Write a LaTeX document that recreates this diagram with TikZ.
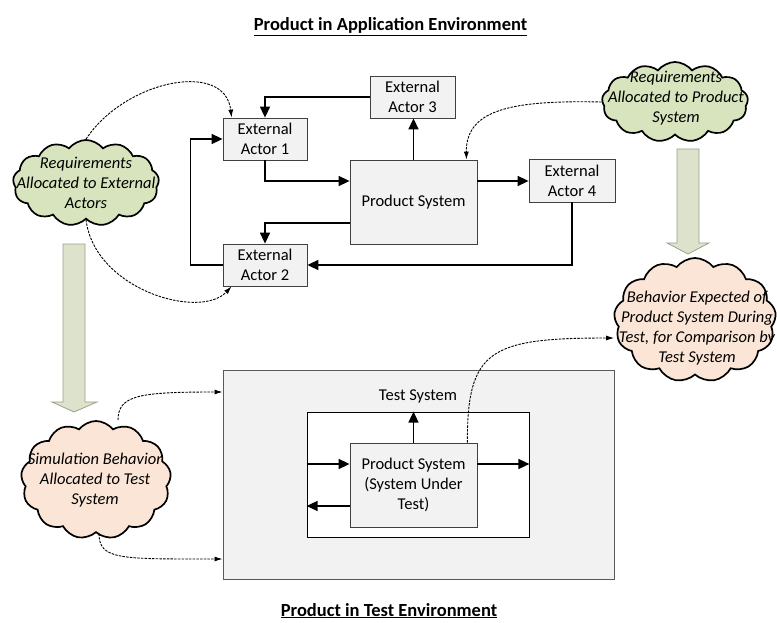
\documentclass[tikz,border=0pt]{standalone}
\usepackage{fontspec}
\setmainfont{Carlito}
\usetikzlibrary{shapes.symbols,arrows.meta}
\definecolor{boxfill}{HTML}{F2F2F2}
\definecolor{boxline}{HTML}{404040}
\definecolor{cgreen}{HTML}{D7E4BD}
\definecolor{cpeach}{HTML}{FBE5D6}
\definecolor{barrowfill}{HTML}{DCE2CB}
\definecolor{barrowline}{HTML}{9AA285}
\definecolor{bigline}{HTML}{595959}
\begin{document}
\begin{tikzpicture}[x=1pt,y=-1pt,
  txt/.style={font=\fontsize{16.5}{20}\selectfont},
  actor/.style={draw=boxline,line width=0.8pt,fill=boxfill,rectangle,inner sep=0pt,align=center,txt},
  cloudshape/.style={cloud,cloud puffs=13,cloud puff arc=105,draw=black,line width=1.7pt,inner sep=0pt},
  ctext/.style={align=center,font=\fontsize{16.5}{20}\selectfont\itshape,inner sep=0pt},
  arr/.style={line width=1.5pt,-{Triangle[length=11pt,width=10pt]}},
  darr/.style={line width=0.9pt,dash pattern=on 2.5pt off 1.2pt,-{Latex[length=8pt,width=5pt]}},
  bigarrow/.style={fill=barrowfill,draw=barrowline,line width=0.8pt},
  title/.style={font=\fontsize{18.5}{22}\selectfont\bfseries,inner sep=0pt,anchor=base}
]
\useasboundingbox (0,0) rectangle (777,623);

% titles
\node[title] (t1) at (390.5,31) {\underline{Product in Application Environment}};
\node[title] (t2) at (389,616) {\underline{Product in Test Environment}};

% top: actors and product system
\node[actor,minimum width=85pt,minimum height=42pt] (a3) at (412.5,97) {External\\Actor 3};
\node[actor,minimum width=84pt,minimum height=42pt] (a1) at (265,139) {External\\Actor 1};
\node[actor,minimum width=127pt,minimum height=84pt] (ps) at (413.5,202) {Product System};
\node[actor,minimum width=86pt,minimum height=43pt] (a4) at (572,180.5) {External\\Actor 4};
\node[actor,minimum width=84pt,minimum height=42pt] (a2) at (265,265) {External\\Actor 2};

\draw[arr] (a3.west) -| (a1.north);
\draw[arr] (a1.south) |- ([yshift=21pt]ps.west);
\draw[arr] (ps.north) -- (ps.north |- a3.south);
\draw[arr] ([yshift=21pt]ps.east) -- ([yshift=21pt]ps.east -| a4.west);
\draw[arr] ([yshift=-21pt]ps.west) -| (a2.north);
\draw[arr] (a4.south) |- (a2.east);
\draw[arr] (a2.west) -- ++(-32,0) |- (a1.west);

% clouds
\node[cloudshape,fill=cgreen,minimum width=146pt,minimum height=86pt] (lc) at (86,183) {};
\node[ctext] (lct) at (86,183) {Requirements\\Allocated to External\\Actors};
\node[cloudshape,fill=cgreen,minimum width=146pt,minimum height=80pt] (rc) at (675,102) {};
\node[ctext] (rct) at (676,98) {Requirements\\Allocated to Product\\System};
\node[cloudshape,fill=cpeach,minimum width=162pt,minimum height=124pt] (bc) at (695,320) {};
\node[ctext] (bct) at (697,328) {Behavior Expected of\\Product System During\\Test, for Comparison by\\Test System};
\node[cloudshape,fill=cpeach,minimum width=150pt,minimum height=118pt] (sc) at (96,480) {};
\node[ctext] (sct) at (95,480) {Simulation Behavior\\Allocated to Test\\System};

% big arrows
\draw[bigarrow] (677,149) -- (699,149) -- (699,243) -- (709,243) -- (688,254) -- (667,243) -- (677,243) -- cycle;
\draw[bigarrow] (63,244) -- (85,244) -- (85,402) -- (97,402) -- (74,412) -- (52,402) -- (63,402) -- cycle;

% bottom: test system
\node[draw=bigline,line width=1pt,fill=boxfill,minimum width=391pt,minimum height=209pt,inner sep=0pt] (tb) at (418.5,474.5) {};
\node[txt,inner sep=0pt] (tsl) at (418,396) {Test System};
\node[draw=black,line width=0.8pt,fill=white,minimum width=222pt,minimum height=125pt,inner sep=0pt] (wb) at (418,474.5) {};
\node[actor,minimum width=127pt,minimum height=84pt] (ps2) at (413.5,485) {Product System\\(System Under\\Test)};

\draw[arr] (ps2.north) -- (ps2.north |- wb.north);
\draw[arr] ([yshift=21pt]ps2.west -| wb.west) -- ([yshift=21pt]ps2.west);
\draw[arr] ([yshift=21pt]ps2.east) -- ([yshift=21pt]ps2.east -| wb.east);
\draw[arr] ([yshift=-21pt]ps2.west) -- ([yshift=-21pt]ps2.west -| wb.west);

% dashed connectors
\draw[darr] (lc.north) .. controls (125,80) and (225,60) .. ([xshift=9pt]a1.north west);
\draw[darr] (lc.south) .. controls (95,290) and (200,320) .. ([xshift=9pt]a2.south west);
\draw[darr] (rc.west) .. controls (510,100) and (466,110) .. ([xshift=-11pt]ps.north east);
\draw[darr] ([xshift=-10pt]ps2.north east) .. controls (467,350) and (490,338) .. ([yshift=-18pt]bc.west);
\draw[darr] ([xshift=22pt]sc.north) .. controls (118,395) and (140,392) .. ([yshift=82.5pt]tb.west);
\draw[darr] ([xshift=3pt]sc.south) .. controls (99,560) and (120,559) .. ([yshift=-84.5pt]tb.west);
\end{tikzpicture}
\end{document}
